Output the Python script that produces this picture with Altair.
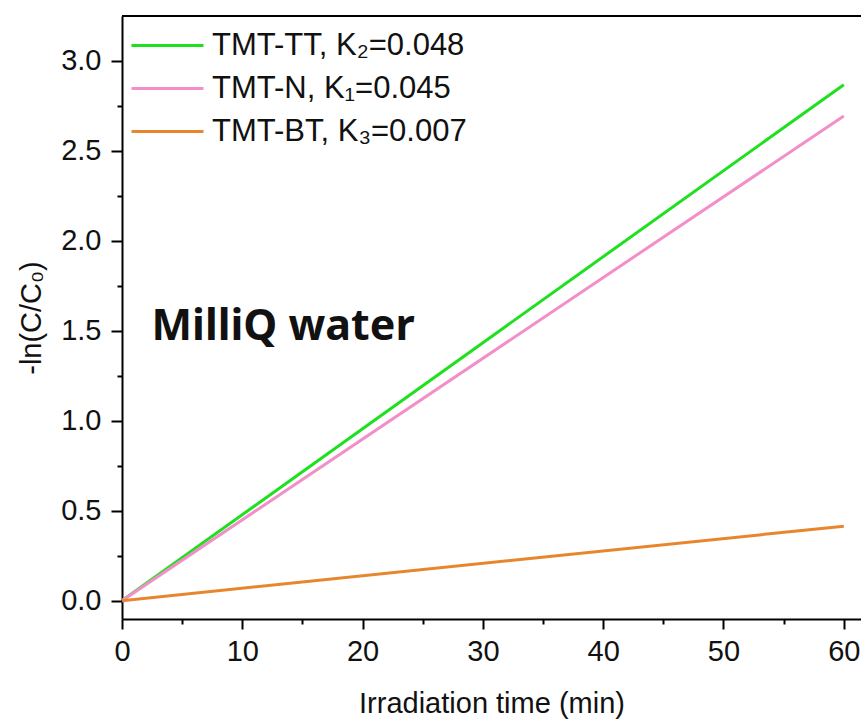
import altair as alt
import pandas as pd

# --- data ---
series = ["TMT-TT, K₂=0.048", "TMT-N, K₁=0.045", "TMT-BT, K₃=0.007"]
colors = ["#1FE01F", "#F28FC8", "#E8862E"]
times = [0, 60]
tt_values = [0.0, 2.868]
n_values = [0.0, 2.694]
bt_values = [0.0, 0.414]

x_ticks = [0, 5, 10, 15, 20, 25, 30, 35, 40, 45, 50, 55, 60]
y_ticks = [0, 0.25, 0.5, 0.75, 1.0, 1.25, 1.5, 1.75, 2.0, 2.25, 2.5, 2.75, 3.0]

note_text = ["MilliQ water"]
note_x = [2.45]
note_y = [1.52]

rows = []
for name, vals in zip(series, [tt_values, n_values, bt_values]):
    for t, v in zip(times, vals):
        rows.append({"series": name, "time": t, "value": v})
df = pd.DataFrame(rows)
note_df = pd.DataFrame({"text": note_text, "x": note_x, "y": note_y})

FONT = "Liberation Sans"

x_scale = alt.Scale(domain=[0, 61.43], nice=False, zero=False)
y_scale = alt.Scale(domain=[-0.102, 3.25], nice=False, zero=False)

x_axis = alt.Axis(
    title="Irradiation time (min)",
    values=x_ticks,
    labelExpr="datum.value % 10 === 0 ? datum.label : ''",
    tickSize={"condition": {"test": "datum.value % 10 === 0", "value": 10}, "value": 5},
    grid=False,
    domainColor="black", domainWidth=2,
    tickColor="black", tickWidth=2,
    labelFont=FONT, labelFontSize=29, labelColor="#111",
    labelPadding=8, labelFlush=False,
    titleFont=FONT, titleFontSize=29, titleFontWeight="normal", titleColor="#111",
    titlePadding=23,
)
y_axis = alt.Axis(
    title="-ln(C/C₀)",
    values=y_ticks,
    format=".1f",
    labelExpr="round(datum.value*4) % 2 === 0 ? datum.label : ''",
    tickSize={"condition": {"test": "round(datum.value*4) % 2 === 0", "value": 11}, "value": 5},
    grid=False,
    domainColor="black", domainWidth=2,
    tickColor="black", tickWidth=2,
    labelFont=FONT, labelFontSize=29, labelColor="#111",
    labelPadding=10, labelFlush=False,
    titleFont=FONT, titleFontSize=29, titleFontWeight="normal", titleColor="#111",
    titlePadding=14,
)

lines = alt.Chart(df).mark_line(strokeWidth=3, clip=True).encode(
    x=alt.X("time:Q", scale=x_scale, axis=x_axis),
    y=alt.Y("value:Q", scale=y_scale, axis=y_axis),
    color=alt.Color(
        "series:N",
        scale=alt.Scale(domain=series, range=colors),
        sort=series,
        legend=alt.Legend(
            title=None, orient="none", legendX=44, legendY=10,
            symbolType="M-3,0H1", symbolSize=1296, symbolStrokeWidth=3,
            labelFont=FONT, labelFontSize=31, labelColor="#111",
            labelOffset=7, rowPadding=8, padding=0, labelLimit=400,
        ),
    ),
    detail="series:N",
)

note = alt.Chart(note_df).mark_text(
    align="left", baseline="middle", font="Noto Sans", fontWeight="bold",
    fontSize=43, color="#111",
).encode(
    x=alt.X("x:Q", scale=x_scale),
    y=alt.Y("y:Q", scale=y_scale),
    text="text:N",
)

top_border = alt.Chart(note_df).mark_rule(color="black", strokeWidth=2).encode(
    x=alt.value(0), x2=alt.value("width"), y=alt.value(0)
)

chart = alt.layer(lines, note, top_border).properties(
    width=739, height=603,
    autosize=alt.AutoSizeParams(type="none"),
    padding={"left": 122, "top": 16, "right": 0, "bottom": 100},
    background="white",
).configure_view(stroke=None)

chart.save("out.html", embed_options={"renderer": "svg", "actions": False})
